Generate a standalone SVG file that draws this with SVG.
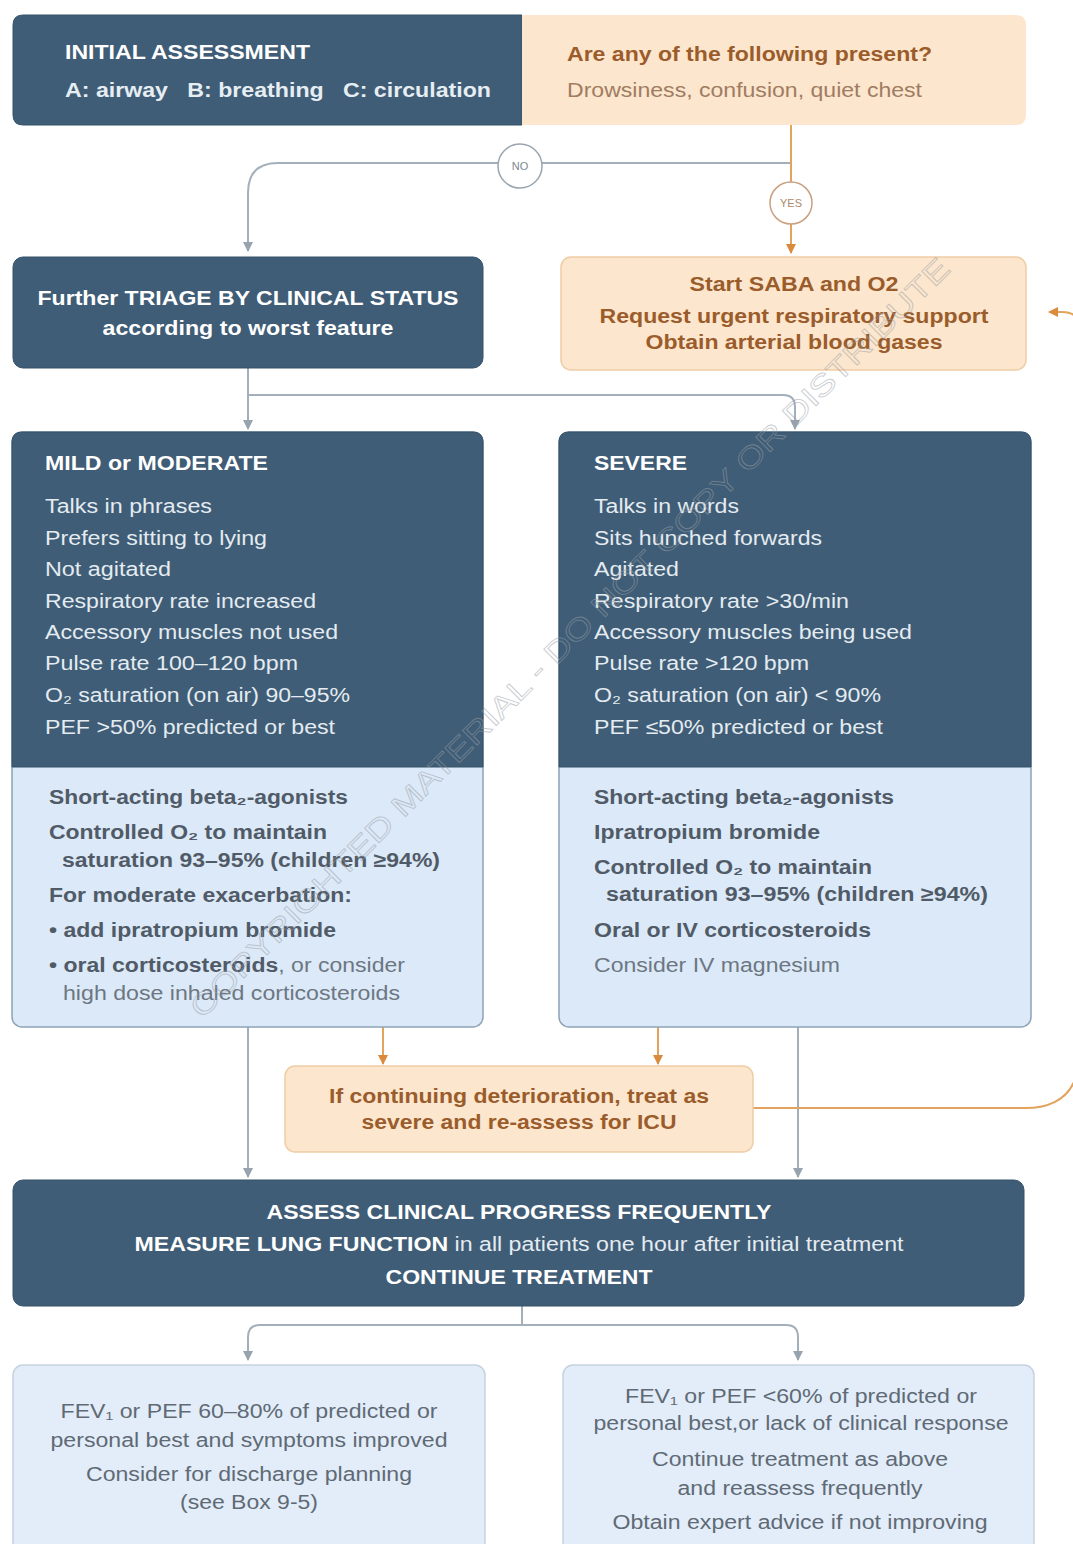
<svg xmlns="http://www.w3.org/2000/svg" width="1073" height="1544" viewBox="0 0 1073 1544">
<style>
text{font-family:"Liberation Sans",Arial,sans-serif}
.dark{fill:#3f5d76;stroke:#36536b;stroke-width:1}
.light{fill:#dce9f8;stroke:#8fa3b6;stroke-width:1.5}
.orange{fill:#fce6cd;stroke:#efcda5;stroke-width:1.5}
.wh{fill:#ffffff;font-weight:bold;font-size:20px}
.wr{fill:#e4ebf1;font-size:20px}
.bb{fill:#9b5c2c;font-weight:bold;font-size:20px}
.br{fill:#a07c62;font-size:20px}
.gb{fill:#505b67;font-weight:bold;font-size:20px}
.gr{fill:#6c7782;font-size:20px}
.gl{fill:#5f6a75;font-size:20px}
.c{text-anchor:middle}
.cg{fill:none;stroke:#a3afba;stroke-width:2}
.co{fill:none;stroke:#e2a45c;stroke-width:2}
</style>
<defs>
<marker id="ag" viewBox="0 0 10 10" refX="9" refY="5" markerWidth="5" markerHeight="5" orient="auto"><path d="M0,0 L10,5 L0,10 z" fill="#97a3ae"/></marker>
<marker id="ao" viewBox="0 0 10 10" refX="9" refY="5" markerWidth="5" markerHeight="5" orient="auto"><path d="M0,0 L10,5 L0,10 z" fill="#d98a3c"/></marker>
</defs>
<rect width="1073" height="1544" fill="#ffffff"/>

<g id="connectors">
<path class="cg" d="M790,163 H278 Q248,163 248,193 V251" marker-end="url(#ag)"/>
<path class="co" d="M791,125 V253" marker-end="url(#ao)"/>
<path class="cg" d="M248,368 V429" marker-end="url(#ag)"/>
<path class="cg" d="M248,395 H783 Q795,395 795,407 V429" marker-end="url(#ag)"/>
<path class="cg" d="M248,1027 V1177" marker-end="url(#ag)"/>
<path class="cg" d="M798,1027 V1177" marker-end="url(#ag)"/>
<path class="co" d="M383,1027 V1064" marker-end="url(#ao)"/>
<path class="co" d="M658,1027 V1064" marker-end="url(#ao)"/>
<path class="co" d="M753,1108 H1025 Q1080,1108 1080,1050 V330 Q1080,312 1062,312 H1049" marker-end="url(#ao)"/>
<path class="cg" d="M522,1306 V1325 H260 Q248,1325 248,1337 V1360" marker-end="url(#ag)"/>
<path class="cg" d="M522,1325 H786 Q798,1325 798,1337 V1360" marker-end="url(#ag)"/>
</g>

<g id="initial-assessment">
<path class="dark" d="M23,15 H522 V125 H23 Q13,125 13,115 V25 Q13,15 23,15 Z"/>
<text class="wh" x="65" y="59" textLength="245" lengthAdjust="spacingAndGlyphs">INITIAL ASSESSMENT</text>
<text class="wh" x="65" y="97" style="fill:#e6edf3" textLength="426" lengthAdjust="spacingAndGlyphs" xml:space="preserve">A: airway   B: breathing   C: circulation</text>
</g>

<g id="question">
<path fill="#fce6cd" d="M522,15 H1016 Q1026,15 1026,25 V115 Q1026,125 1016,125 H522 Z"/>
<text class="bb" x="567" y="61" textLength="365" lengthAdjust="spacingAndGlyphs">Are any of the following present?</text>
<text class="br" x="567" y="97" textLength="355" lengthAdjust="spacingAndGlyphs">Drowsiness, confusion, quiet chest</text>
</g>

<g id="no-label">
<circle cx="520" cy="166" r="22" fill="#ffffff" stroke="#9aa5b0" stroke-width="1.5"/>
<text x="520" y="170" class="c" style="font-size:11px;fill:#7d8791">NO</text>
</g>
<g id="yes-label">
<circle cx="791" cy="203" r="21" fill="#ffffff" stroke="#c9a080" stroke-width="1.5"/>
<text x="791" y="207" class="c" style="font-size:11px;fill:#ad8a6c">YES</text>
</g>

<g id="triage">
<rect class="dark" x="13" y="257" width="470" height="111" rx="10"/>
<text class="wh c" x="248" y="305" textLength="421" lengthAdjust="spacingAndGlyphs">Further TRIAGE BY CLINICAL STATUS</text>
<text class="wh c" x="248" y="335" textLength="291" lengthAdjust="spacingAndGlyphs">according to worst feature</text>
</g>

<g id="saba">
<rect class="orange" x="561" y="257" width="465" height="113" rx="10"/>
<text class="bb c" x="794" y="291" textLength="209" lengthAdjust="spacingAndGlyphs">Start SABA and O2</text>
<text class="bb c" x="794" y="323" textLength="389" lengthAdjust="spacingAndGlyphs">Request urgent respiratory support</text>
<text class="bb c" x="794" y="349" textLength="297" lengthAdjust="spacingAndGlyphs">Obtain arterial blood gases</text>
</g>

<g id="mild-moderate">
<rect class="light" x="12" y="432" width="471" height="595" rx="10"/>
<path class="dark" d="M22,432 H473 Q483,432 483,442 V767 H12 V442 Q12,432 22,432 Z"/>
<text class="wh" x="45" y="470" textLength="223" lengthAdjust="spacingAndGlyphs">MILD or MODERATE</text>
<text class="wr" x="45" y="513" textLength="167" lengthAdjust="spacingAndGlyphs">Talks in phrases</text>
<text class="wr" x="45" y="545" textLength="222" lengthAdjust="spacingAndGlyphs">Prefers sitting to lying</text>
<text class="wr" x="45" y="576" textLength="126" lengthAdjust="spacingAndGlyphs">Not agitated</text>
<text class="wr" x="45" y="608" textLength="271" lengthAdjust="spacingAndGlyphs">Respiratory rate increased</text>
<text class="wr" x="45" y="639" textLength="293" lengthAdjust="spacingAndGlyphs">Accessory muscles not used</text>
<text class="wr" x="45" y="670" textLength="253" lengthAdjust="spacingAndGlyphs">Pulse rate 100–120 bpm</text>
<text class="wr" x="45" y="702" textLength="305" lengthAdjust="spacingAndGlyphs">O₂ saturation (on air) 90–95%</text>
<text class="wr" x="45" y="734" textLength="290" lengthAdjust="spacingAndGlyphs">PEF &gt;50% predicted or best</text>
<text class="gb" x="49" y="804" textLength="299" lengthAdjust="spacingAndGlyphs">Short-acting beta₂-agonists</text>
<text class="gb" x="49" y="839" textLength="278" lengthAdjust="spacingAndGlyphs">Controlled O₂ to maintain</text>
<text class="gb" x="62" y="867" textLength="378" lengthAdjust="spacingAndGlyphs">saturation 93–95% (children ≥94%)</text>
<text class="gb" x="49" y="902" textLength="303" lengthAdjust="spacingAndGlyphs">For moderate exacerbation:</text>
<text class="gb" x="49" y="937" textLength="287" lengthAdjust="spacingAndGlyphs">• add ipratropium bromide</text>
<text class="gb" x="49" y="972" textLength="356" lengthAdjust="spacingAndGlyphs">• oral corticosteroids<tspan style="font-weight:normal;fill:#6c7782">, or consider</tspan></text>
<text class="gr" x="63" y="1000" textLength="337" lengthAdjust="spacingAndGlyphs">high dose inhaled corticosteroids</text>
</g>

<g id="severe">
<rect class="light" x="559" y="432" width="472" height="595" rx="10"/>
<path class="dark" d="M569,432 H1021 Q1031,432 1031,442 V767 H559 V442 Q559,432 569,432 Z"/>
<text class="wh" x="594" y="470" textLength="93" lengthAdjust="spacingAndGlyphs">SEVERE</text>
<text class="wr" x="594" y="513" textLength="145" lengthAdjust="spacingAndGlyphs">Talks in words</text>
<text class="wr" x="594" y="545" textLength="228" lengthAdjust="spacingAndGlyphs">Sits hunched forwards</text>
<text class="wr" x="594" y="576" textLength="85" lengthAdjust="spacingAndGlyphs">Agitated</text>
<text class="wr" x="594" y="608" textLength="255" lengthAdjust="spacingAndGlyphs">Respiratory rate &gt;30/min</text>
<text class="wr" x="594" y="639" textLength="318" lengthAdjust="spacingAndGlyphs">Accessory muscles being used</text>
<text class="wr" x="594" y="670" textLength="215" lengthAdjust="spacingAndGlyphs">Pulse rate &gt;120 bpm</text>
<text class="wr" x="594" y="702" textLength="287" lengthAdjust="spacingAndGlyphs">O₂ saturation (on air) &lt; 90%</text>
<text class="wr" x="594" y="734" textLength="289" lengthAdjust="spacingAndGlyphs">PEF ≤50% predicted or best</text>
<text class="gb" x="594" y="804" textLength="300" lengthAdjust="spacingAndGlyphs">Short-acting beta₂-agonists</text>
<text class="gb" x="594" y="839" textLength="226" lengthAdjust="spacingAndGlyphs">Ipratropium bromide</text>
<text class="gb" x="594" y="874" textLength="278" lengthAdjust="spacingAndGlyphs">Controlled O₂ to maintain</text>
<text class="gb" x="606" y="901" textLength="382" lengthAdjust="spacingAndGlyphs">saturation 93–95% (children ≥94%)</text>
<text class="gb" x="594" y="937" textLength="277" lengthAdjust="spacingAndGlyphs">Oral or IV corticosteroids</text>
<text class="gr" x="594" y="972" textLength="246" lengthAdjust="spacingAndGlyphs">Consider IV magnesium</text>
</g>

<g id="deterioration">
<rect class="orange" x="285" y="1066" width="468" height="86" rx="10"/>
<text class="bb c" x="519" y="1103" textLength="380" lengthAdjust="spacingAndGlyphs">If continuing deterioration, treat as</text>
<text class="bb c" x="519" y="1129" textLength="315" lengthAdjust="spacingAndGlyphs">severe and re-assess for ICU</text>
</g>

<g id="assess">
<rect class="dark" x="13" y="1180" width="1011" height="126" rx="10"/>
<text class="wh c" x="519" y="1219" textLength="505" lengthAdjust="spacingAndGlyphs">ASSESS CLINICAL PROGRESS FREQUENTLY</text>
<text class="wh c" x="519" y="1251" textLength="769" lengthAdjust="spacingAndGlyphs">MEASURE LUNG FUNCTION<tspan style="font-weight:normal;fill:#e4ebf1"> in all patients one hour after initial treatment</tspan></text>
<text class="wh c" x="519" y="1284" textLength="267" lengthAdjust="spacingAndGlyphs">CONTINUE TREATMENT</text>
</g>

<g id="improved">
<rect class="light" x="13" y="1365" width="472" height="200" rx="10" style="stroke:#c5d3e0;fill:#e2edf9"/>
<text class="gl c" x="249" y="1418" textLength="377" lengthAdjust="spacingAndGlyphs">FEV₁ or PEF 60–80% of predicted or</text>
<text class="gl c" x="249" y="1447" textLength="397" lengthAdjust="spacingAndGlyphs">personal best and symptoms improved</text>
<text class="gl c" x="249" y="1481" textLength="326" lengthAdjust="spacingAndGlyphs">Consider for discharge planning</text>
<text class="gl c" x="249" y="1509" textLength="138" lengthAdjust="spacingAndGlyphs">(see Box 9-5)</text>
</g>

<g id="not-improved">
<rect class="light" x="563" y="1365" width="471" height="200" rx="10" style="stroke:#c5d3e0;fill:#e2edf9"/>
<text class="gl c" x="801" y="1403" textLength="352" lengthAdjust="spacingAndGlyphs">FEV₁ or PEF &lt;60% of predicted or</text>
<text class="gl c" x="801" y="1430" textLength="415" lengthAdjust="spacingAndGlyphs">personal best,or lack of clinical response</text>
<text class="gl c" x="800" y="1466" textLength="296" lengthAdjust="spacingAndGlyphs">Continue treatment as above</text>
<text class="gl c" x="800" y="1495" textLength="245" lengthAdjust="spacingAndGlyphs">and reassess frequently</text>
<text class="gl c" x="800" y="1529" textLength="375" lengthAdjust="spacingAndGlyphs">Obtain expert advice if not improving</text>
</g>

<text x="570" y="648" class="c" transform="rotate(-45 570 638)" style="font-size:30px;fill:none;stroke:#9aa0a6;stroke-width:0.8;opacity:0.55" textLength="1060" lengthAdjust="spacingAndGlyphs">COPYRIGHTED MATERIAL - DO NOT COPY OR DISTRIBUTE</text>
</svg>
